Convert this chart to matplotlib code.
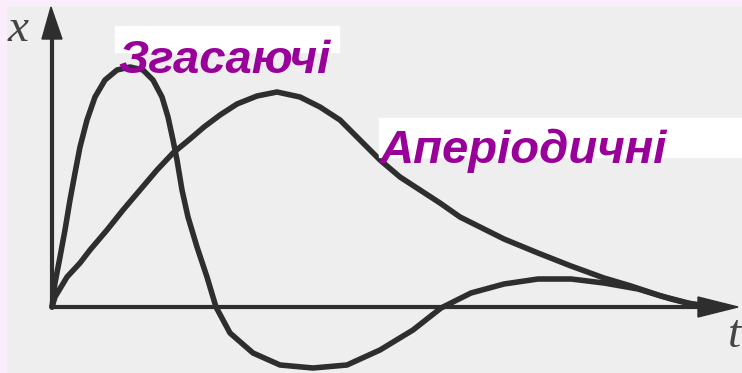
import matplotlib
matplotlib.use("Agg")
import matplotlib.pyplot as plt
from matplotlib.patches import Rectangle, Polygon

# time / displacement points (origin at the axes crossing)
damped_t = [0, 3, 8, 13, 18, 23, 28, 35, 43, 53, 65, 78, 91, 101, 110, 116,
            121, 125, 130, 136, 145, 155, 164, 178, 201, 228, 261, 295, 328,
            361, 389, 419, 452, 486, 519, 552, 586, 619, 639, 660]
damped_x = [0, 24, 50, 77, 107, 134, 160, 187, 210, 227, 237, 240, 237, 227,
            210, 190, 167, 147, 117, 90, 60, 30, 0, -26, -46, -58, -61, -58,
            -43, -23, -1, 14, 23, 28, 28, 24, 18, 8, 3, 1]

aper_t = [0, 3, 15, 28, 38, 55, 71, 88, 105, 121, 138, 152, 168, 185, 205,
          225, 248, 268, 288, 308, 328, 348, 368, 388, 408, 428, 452, 486,
          519, 552, 579, 609, 636, 652]
aper_x = [0, 10, 30, 44, 57, 77, 97, 117, 137, 154, 168, 180, 192, 203, 211,
          215, 210, 200, 187, 167, 147, 130, 117, 104, 90, 80, 68, 54,
          41, 29, 21, 11, 4, 1]

labels = ["Згасаючі", "Аперіодичні"]

ink = "#2e2e2e"
purple = "#990099"

fig = plt.figure(figsize=(7.42, 3.73), dpi=100)
fig.patch.set_facecolor("#fcedfc")
ax = fig.add_axes([7 / 742, 0, 735 / 742, 367 / 373])
ax.set_facecolor("#eeeeee")
ax.set_xlim(-45, 690)
ax.set_ylim(-66, 301)
ax.set_xticks([])
ax.set_yticks([])
for s in ax.spines.values():
    s.set_visible(False)

# axes with arrow heads
ax.plot([0, 0], [0, 272], color=ink, lw=3.0, solid_capstyle="butt")
ax.add_patch(Polygon([(-10, 268), (10, 268), (-1, 300)], closed=True, color=ink))
ax.plot([0, 650], [0, 0], color=ink, lw=3.0, solid_capstyle="butt")
ax.add_patch(Polygon([(646, -10), (646, 10), (686, 0)], closed=True, color=ink))

ax.text(-44, 266, "x", fontsize=34, family="Liberation Serif", style="italic",
        color="#444444", va="baseline", ha="left")
ax.text(676, -40, "t", fontsize=34, family="Liberation Serif", style="italic",
        color="#444444", va="baseline", ha="left")

# curves
ax.plot(damped_t, damped_x, color=ink, lw=4.0, solid_joinstyle="round",
        solid_capstyle="round")
ax.plot(aper_t, aper_x, color=ink, lw=4.0, solid_joinstyle="round",
        solid_capstyle="round")

# labels on white strips
ax.add_patch(Rectangle((63, 255), 224, 26, color="white", zorder=3))
ax.text(66, 234, labels[0], fontsize=34, family="Liberation Sans",
        weight="bold", style="italic", color=purple, va="baseline",
        zorder=4)
ax.add_patch(Rectangle((327, 150), 370, 39, color="white", zorder=3))
ax.text(328, 144, labels[1], fontsize=34, family="Liberation Sans",
        weight="bold", style="italic", color=purple, va="baseline",
        zorder=4)

fig.savefig("out.png", dpi=100, facecolor=fig.get_facecolor())
